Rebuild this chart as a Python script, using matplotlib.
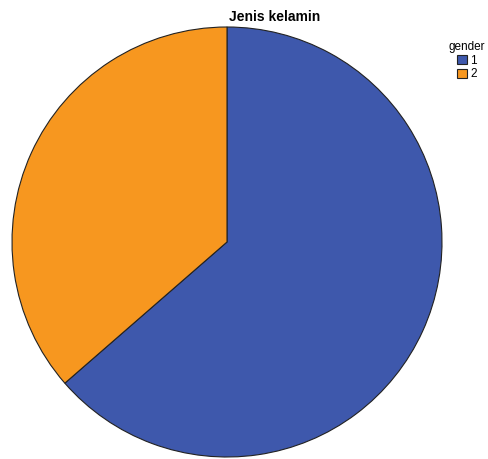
import matplotlib
matplotlib.use("Agg")
import matplotlib.pyplot as plt
from matplotlib.patches import Patch

labels = ["1", "2"]
values = [63.6, 36.4]
colors = ["#3E58AC", "#F7971F"]

W, H = 488, 459
fig = plt.figure(figsize=(W/100, H/100), dpi=100)
cx, cy, r = 227, 242, 215
ax = fig.add_axes([(cx-r)/W, (H-cy-r)/H, 2*r/W, 2*r/H])
ax.pie(values, colors=colors, startangle=90, counterclock=False,
       wedgeprops=dict(edgecolor="#222222", linewidth=0.8), radius=1)
ax.set_xlim(-1, 1); ax.set_ylim(-1, 1)
ax.set_aspect("equal")
ax.axis("off")

fig.text(275/W, 1-17/H, "Jenis kelamin", ha="center", va="center",
         fontsize=10, fontweight="bold", family="Liberation Sans")

handles = [Patch(facecolor=c, edgecolor="#222222", linewidth=0.8) for c in colors]
leg = fig.legend(handles, labels, title="gender", loc="upper center",
                 bbox_to_anchor=(467/W, 1-35/H), frameon=False,
                 handlelength=0.8, handleheight=0.8,
                 handletextpad=0.3, labelspacing=0.15, borderpad=0,
                 prop={"family": "Liberation Sans", "size": 8.5})
leg.get_title().set_family("Liberation Sans")
leg.get_title().set_fontsize(8.5)
fig.savefig("out.png", dpi=100)
